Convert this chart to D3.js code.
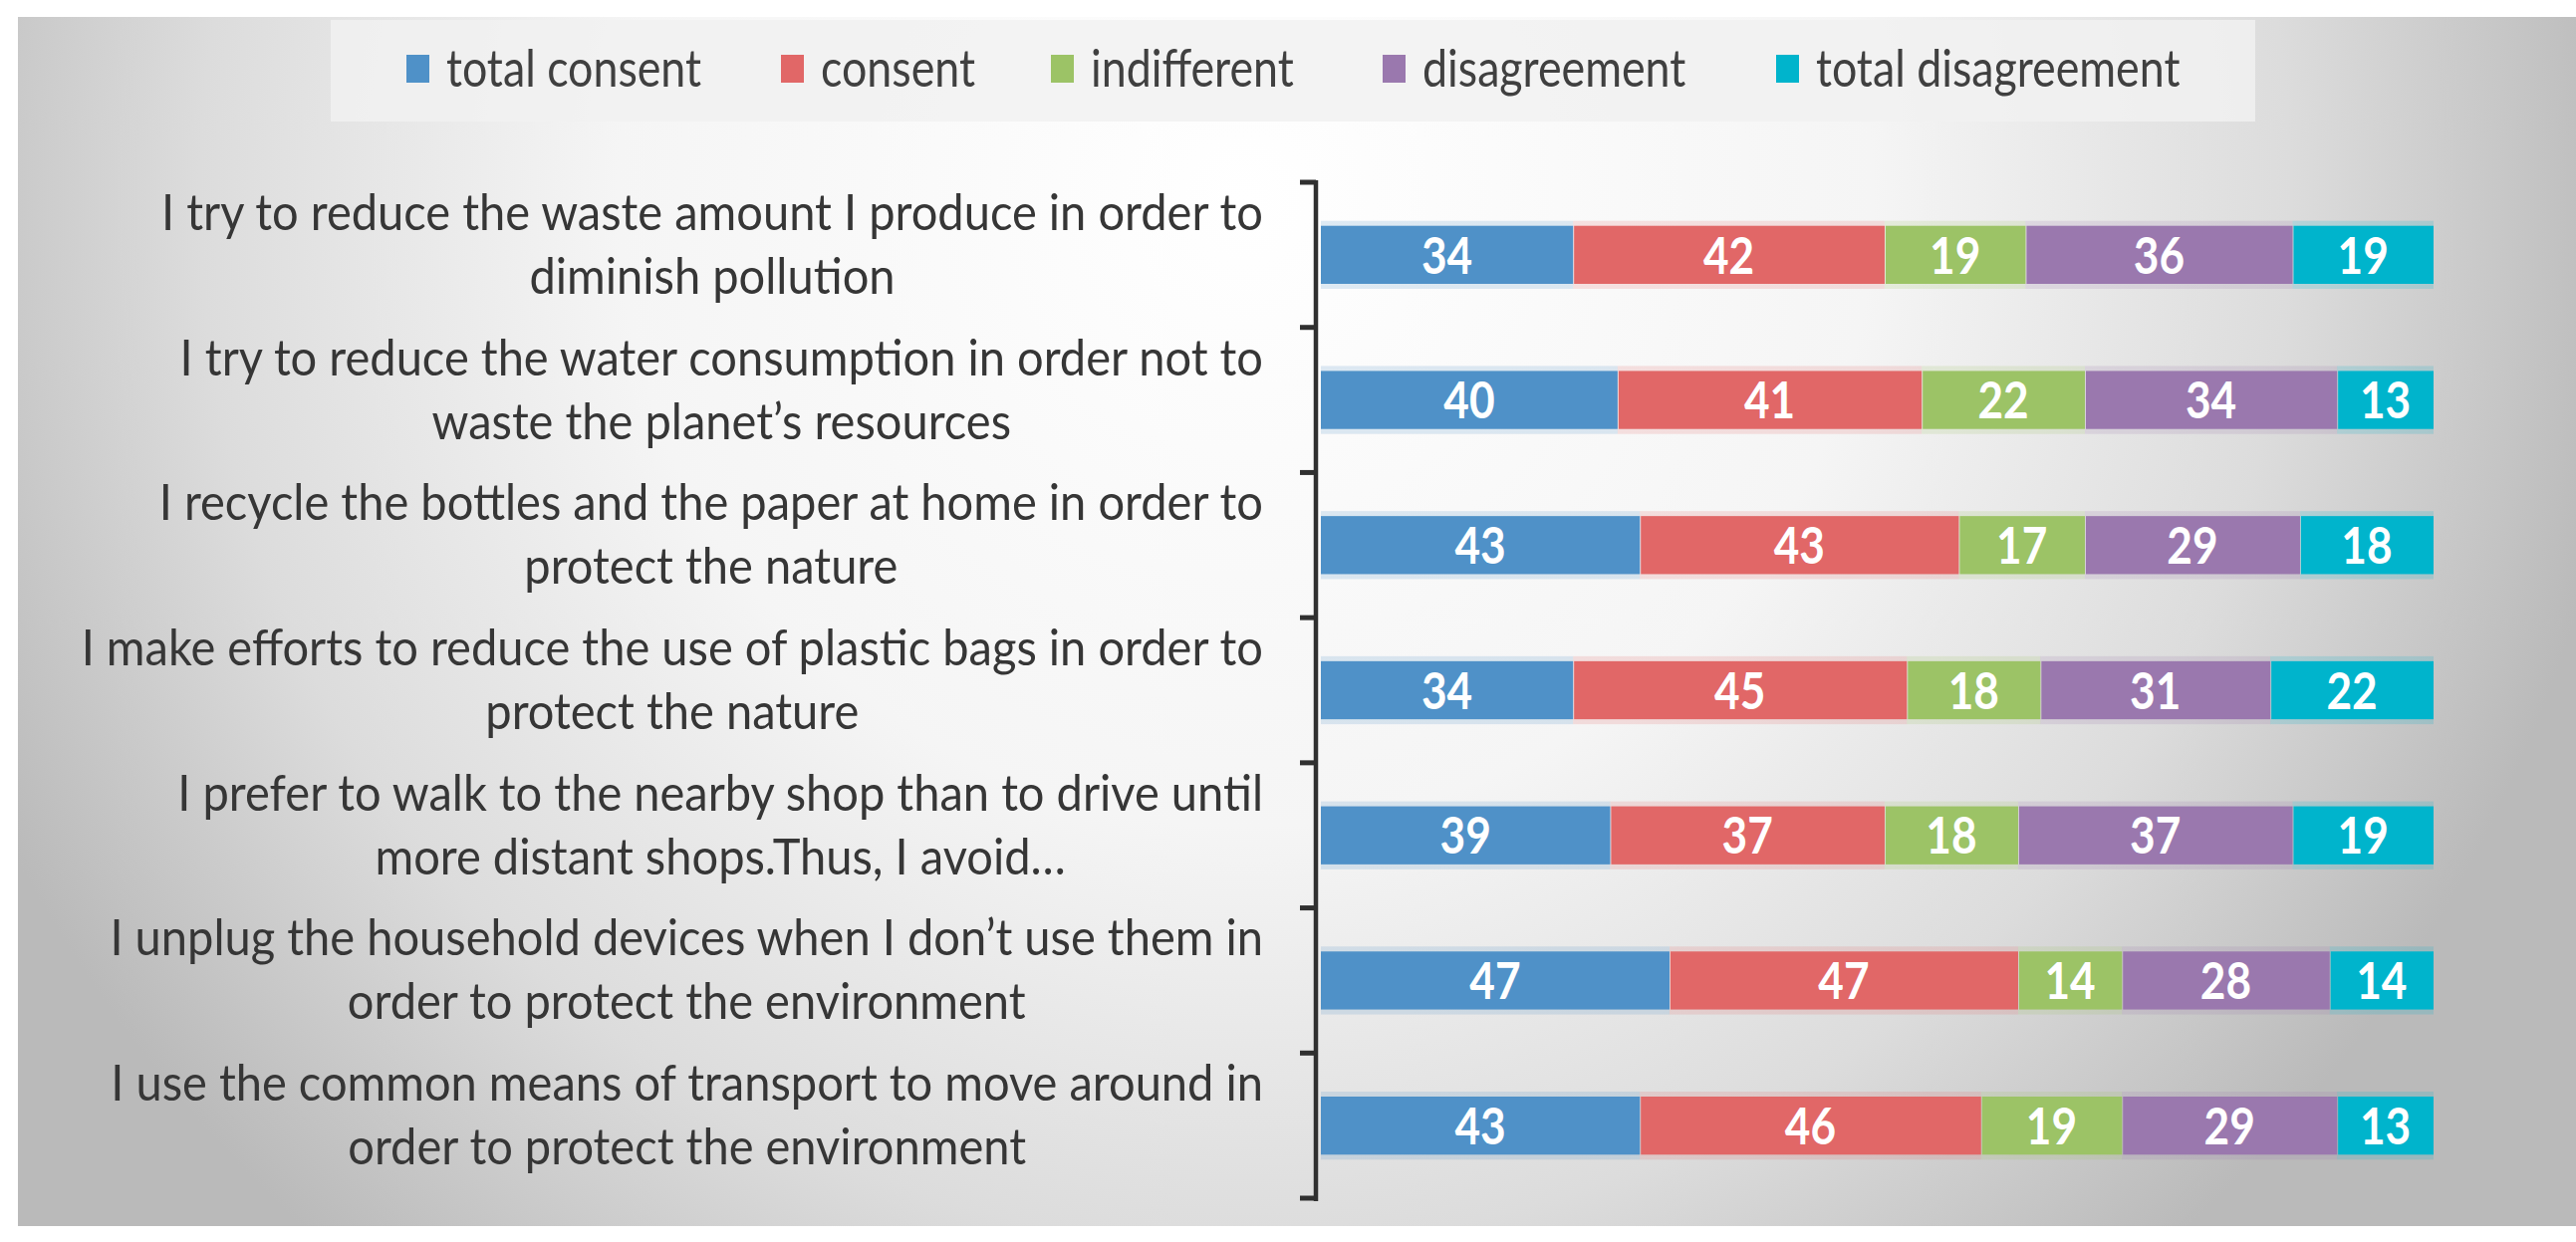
<!DOCTYPE html>
<html>
<head>
<meta charset="utf-8">
<script src="https://cdn.jsdelivr.net/npm/d3@7"></script>
<style>
  html, body { margin: 0; padding: 0; background: #fff; }
  svg { display: block; }
</style>
</head>
<body>
<div id="chart"></div>
<script>
// data (each row sums to 150)
const series = ['total consent', 'consent', 'indifferent', 'disagreement', 'total disagreement'];
const colors = ['#4f91c8', '#e16767', '#9cc366', '#9a78ae', '#00b4cc'];

const statements = [
  ['I try to reduce the waste amount I produce in order to', 'diminish pollution'],
  ['I try to reduce the water consumption in order not to', 'waste the planet\u2019s resources'],
  ['I recycle the bottles and the paper at home in order to', 'protect the nature'],
  ['I make efforts to reduce the use of plastic bags in order to', 'protect the nature'],
  ['I prefer to walk to the nearby shop than to drive until', 'more distant shops.Thus, I avoid\u2026'],
  ['I unplug the household devices when I don\u2019t use them in', 'order to protect the environment'],
  ['I use the common means of transport to move around in', 'order to protect the environment']
];

const totalConsent      = [34, 40, 43, 34, 39, 47, 43];
const consent           = [42, 41, 43, 45, 37, 47, 46];
const indifferent       = [19, 22, 17, 18, 18, 14, 19];
const disagreement      = [36, 34, 29, 31, 37, 28, 29];
const totalDisagreement = [19, 13, 18, 22, 19, 14, 13];

const W = 2586, H = 1247;
const FONT = 'Lato, "Open Sans", sans-serif';

const rows = statements.map((s, i) => ({
  key: 'r' + i,
  lines: s,
  'total consent': totalConsent[i],
  'consent': consent[i],
  'indifferent': indifferent[i],
  'disagreement': disagreement[i],
  'total disagreement': totalDisagreement[i]
}));

// squeeze a text horizontally (the original uses a narrow font)
function squeeze(sel, k) {
  sel.each(function () {
    const w = this.getComputedTextLength();
    d3.select(this).attr('textLength', w * k).attr('lengthAdjust', 'spacingAndGlyphs');
  });
}

const svg = d3.select('#chart').append('svg').attr('width', W).attr('height', H);
const defs = svg.append('defs');

const bg = defs.append('radialGradient').attr('id', 'bg')
  .attr('gradientUnits', 'userSpaceOnUse')
  .attr('cx', 1250).attr('cy', 200).attr('r', 1400);
bg.append('stop').attr('offset', 0).attr('stop-color', '#ffffff');
bg.append('stop').attr('offset', 0.45).attr('stop-color', '#f5f5f5');
bg.append('stop').attr('offset', 0.75).attr('stop-color', '#dcdcdc');
bg.append('stop').attr('offset', 1).attr('stop-color', '#bababa');

svg.append('rect').attr('x', 18).attr('y', 17).attr('width', W - 18).attr('height', 1214)
  .attr('fill', 'url(#bg)');

// ── legend ─────────────────────────────────────
svg.append('rect').attr('x', 332).attr('y', 20).attr('width', 1932).attr('height', 102)
  .attr('fill', '#f1f1f1').attr('opacity', 0.85);

const legendX = [408, 784, 1055, 1388, 1783];
const leg = svg.append('g').selectAll('g').data(series).join('g')
  .attr('transform', (d, i) => `translate(${legendX[i]},69)`);
leg.append('rect').attr('x', 0).attr('y', -14).attr('width', 23).attr('height', 28)
  .attr('fill', (d, i) => colors[i]);
const legText = leg.append('text').attr('x', 40).attr('y', 0).attr('dy', '0.35em')
  .attr('font-family', FONT).attr('font-size', 52).attr('fill', '#404040')
  .text(d => d);
squeeze(legText, 0.86);

// ── scales ─────────────────────────────────────
const x0 = 1326, x1 = 2443;
const x = d3.scaleLinear().domain([0, 150]).range([x0, x1]);
const y = d3.scaleBand().domain(rows.map(d => d.key)).range([183, 1203]).paddingInner(0.6).paddingOuter(0.3);
const step = y.step();

const stacked = d3.stack().keys(series)(rows);

// soft glow behind segments
const barG = svg.append('g');
stacked.forEach((layer, li) => {
  barG.append('g').selectAll('rect').data(layer).join('rect')
    .attr('x', d => x(d[0]))
    .attr('y', d => y(d.data.key) - 5)
    .attr('width', d => x(d[1]) - x(d[0]))
    .attr('height', y.bandwidth() + 10)
    .attr('fill', colors[li]).attr('opacity', 0.18);
});
stacked.forEach((layer, li) => {
  const g = barG.append('g');
  g.selectAll('rect').data(layer).join('rect')
    .attr('x', d => x(d[0]) + (li ? 1 : 0))
    .attr('y', d => y(d.data.key))
    .attr('width', d => x(d[1]) - x(d[0]) - (li ? 1 : 0))
    .attr('height', y.bandwidth())
    .attr('fill', colors[li]);
  const t = g.selectAll('text').data(layer).join('text')
    .attr('x', d => (x(d[0]) + x(d[1])) / 2)
    .attr('y', d => y(d.data.key) + y.bandwidth() / 2)
    .attr('dy', '0.36em')
    .attr('text-anchor', 'middle')
    .attr('font-family', FONT).attr('font-weight', 'bold').attr('font-size', 52)
    .attr('fill', '#ffffff')
    .text(d => d[1] - d[0]);
  squeeze(t, 0.85);
});

// ── category axis ──────────────────────────────
const axisX = 1321;
const ticksY = d3.range(rows.length + 1).map(i => 183 + i * step);
const ax = svg.append('g');
ax.append('line').attr('x1', axisX).attr('x2', axisX).attr('y1', 181).attr('y2', 1206)
  .attr('stroke', '#303030').attr('stroke-width', 4.5);
ax.selectAll('.tick').data(ticksY).join('line').attr('class', 'tick')
  .attr('x1', 1305).attr('x2', axisX).attr('y1', d => d).attr('y2', d => d)
  .attr('stroke', '#303030').attr('stroke-width', 5);

// ── statement labels: block right-aligned, lines centred in block ──
const labelRight = 1268;
const lab = svg.append('g').selectAll('g').data(rows).join('g')
  .attr('transform', d => `translate(0,${y(d.key) + y.bandwidth() / 2})`);
const lineText = lab.selectAll('text').data(d => d.lines).join('text')
  .attr('y', (d, i) => i === 0 ? -25 : 39)
  .attr('text-anchor', 'middle')
  .attr('font-family', FONT).attr('font-size', 50).attr('fill', '#363636')
  .text(d => d);

// fit the first line of the first statement to the width seen in the picture
const w0 = lab.select('text').node().getComputedTextLength();
const k = 1106 / w0;
squeeze(lineText, k);

lab.each(function () {
  const t = d3.select(this).selectAll('text');
  const bw = d3.max(t.nodes(), n => +n.getAttribute('textLength'));
  t.attr('x', labelRight - bw / 2);
});
</script>
</body>
</html>
